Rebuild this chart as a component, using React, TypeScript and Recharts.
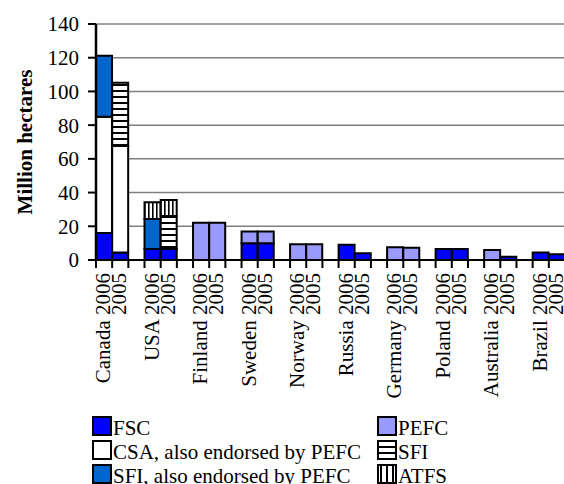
import { BarChart, Bar, XAxis, YAxis, CartesianGrid, Label } from 'recharts'

const countries = ['Canada', 'USA', 'Finland', 'Sweden', 'Norway', 'Russia', 'Germany', 'Poland', 'Australia', 'Brazil']
const years = ['2006', '2005']
const yTicks = [0, 20, 40, 60, 80, 100, 120, 140]

// values per country, in the order [2006, 2005]
const fsc = [16, 4.5, 6.5, 6.5, null, null, 10, 10, null, null, 9, 4, null, null, 6.5, 6.5, null, 2, 4.5, 3.4]
const pefc = [null, null, null, null, 22.1, 22.1, 6.9, 6.9, 9.3, 9.3, null, null, 7.5, 7.3, null, null, 5.9, null, null, null]
const csa = [69, 63.2, null, null, null, null, null, null, null, null, null, null, null, null, null, null, null, null, null, null]
const sfiPefc = [36.2, null, 17.8, null, null, null, null, null, null, null, null, null, null, null, null, null, null, null, null, null]
const sfi = [null, 37.5, null, 19.6, null, null, null, null, null, null, null, null, null, null, null, null, null, null, null, null]
const atfs = [null, null, 9.9, 9.5, null, null, null, null, null, null, null, null, null, null, null, null, null, null, null, null]

const series = [
  { key: 'fsc', name: 'FSC', fill: '#0000ff', values: fsc },
  { key: 'pefc', name: 'PEFC', fill: '#9999ff', values: pefc },
  { key: 'csa', name: 'CSA, also endorsed by PEFC', fill: '#ffffff', values: csa },
  { key: 'sfiPefc', name: 'SFI, also endorsed by PEFC', fill: '#0066cc', values: sfiPefc },
  { key: 'sfi', name: 'SFI', fill: 'url(#hstripe)', values: sfi },
  { key: 'atfs', name: 'ATFS', fill: 'url(#vstripe)', values: atfs },
]

// legend order (two columns, read row by row)
const legendOrder = ['fsc', 'pefc', 'csa', 'sfi', 'sfiPefc', 'atfs']

const FONT = '"Liberation Serif", "DejaVu Serif", serif'
const CHART_W = 565
const YAXIS_W = 96
const PLOT_W = CHART_W - YAXIS_W

type Row = { id: string; label: string; [k: string]: any }
const rows: Row[] = []
countries.forEach((c, ci) => {
  years.forEach((yr, yi) => {
    const r: Row = { id: `${c}-${yr}`, label: yi === 0 ? `${c} ${yr}` : yr }
    series.forEach(s => {
      r[s.key] = s.values[ci * 2 + yi]
    })
    rows.push(r)
  })
  if (ci < countries.length - 1) rows.push({ id: `gap-${ci}`, label: '' })
})

function CategoryTick(props: any) {
  const { x, y, index } = props
  const bw = PLOT_W / rows.length
  const row = rows[index]
  const left = x - bw / 2
  return (
    <g>
      <line x1={left} x2={left} y1={y} y2={y + 8} stroke="#000" strokeWidth={2} />
      {index === rows.length - 1 && (
        <line x1={x + bw / 2} x2={x + bw / 2} y1={y} y2={y + 8} stroke="#000" strokeWidth={2} />
      )}
      {row && row.label && (
        <text
          transform={`translate(${x + 6},${y + 13}) rotate(-90)`}
          textAnchor="end"
          fontSize={21}
          fontFamily={FONT}
          fill="#000"
        >
          {row.label}
        </text>
      )}
    </g>
  )
}

function Swatch({ fill, x, y }: { fill: string; x: number; y: number }) {
  return <rect x={x} y={y} width={18} height={18} fill={fill} stroke="#000" strokeWidth={2} />
}

function LegendBlock() {
  const cols = [92, 377]
  const rowsY = [417, 441, 465]
  return (
    <svg width={564} height={484} style={{ position: 'absolute', left: 0, top: 0 }}>
      <defs>
        <pattern id="lhstripe" width="6" height="6" patternUnits="userSpaceOnUse">
          <rect width="6" height="6" fill="#fff" />
          <rect y="2" width="6" height="2" fill="#000" />
        </pattern>
        <pattern id="lvstripe" width="6" height="6" patternUnits="userSpaceOnUse">
          <rect width="6" height="6" fill="#fff" />
          <rect x="2" width="2" height="6" fill="#000" />
        </pattern>
      </defs>
      {legendOrder.map((k, i) => {
        const s = series.find(v => v.key === k)!
        const x = cols[i % 2]
        const y = rowsY[Math.floor(i / 2)]
        const fill = s.fill === 'url(#hstripe)' ? 'url(#lhstripe)' : s.fill === 'url(#vstripe)' ? 'url(#lvstripe)' : s.fill
        return (
          <g key={k}>
            <Swatch fill={fill} x={x + 1} y={y} />
            <text x={x + 21} y={y + 18} fontSize={21} fontFamily={FONT} fill="#000">
              {s.name}
            </text>
          </g>
        )
      })}
    </svg>
  )
}

export default function App() {
  return (
    <div
      style={{
        position: 'absolute',
        left: 0,
        top: 0,
        width: 564,
        height: 484,
        overflow: 'hidden',
        background: '#fff',
      }}
    >
      <BarChart
        width={CHART_W}
        height={400}
        data={rows}
        margin={{ top: 24, right: 0, bottom: 10, left: 0 }}
        barCategoryGap={0}
        barGap={0}
      >
        <defs>
          <pattern id="hstripe" width="6" height="6" patternUnits="userSpaceOnUse">
            <rect width="6" height="6" fill="#fff" />
            <rect y="0" width="6" height="2" fill="#000" />
          </pattern>
          <pattern id="vstripe" width="4" height="4" patternUnits="userSpaceOnUse">
            <rect width="4" height="4" fill="#fff" />
            <rect x="0" width="1.6" height="4" fill="#000" />
          </pattern>
        </defs>
        <CartesianGrid vertical={false} stroke="#808080" strokeWidth={1.5} />
        <XAxis
          dataKey="id"
          interval={0}
          height={130}
          tickLine={false}
          tickSize={0}
          tickMargin={0}
          axisLine={{ stroke: '#000', strokeWidth: 2 }}
          tick={<CategoryTick />}
        />
        <YAxis
          width={YAXIS_W}
          domain={[0, 140]}
          ticks={yTicks}
          interval={0}
          tickSize={8}
          tickMargin={9}
          axisLine={{ stroke: '#000', strokeWidth: 2.5 }}
          tickLine={{ stroke: '#000', strokeWidth: 2 }}
          tick={{ fontSize: 21, fontFamily: FONT, fill: '#000' }}
        >
          <Label
            content={(p: any) => {
              const vb = p.viewBox || { y: 24, height: 236 }
              const cy = vb.y + vb.height / 2
              return (
                <text
                  x={32}
                  y={cy}
                  transform={`rotate(-90 32 ${cy})`}
                  textAnchor="middle"
                  fontSize={21}
                  fontWeight="bold"
                  fontFamily={FONT}
                  fill="#000"
                >
                  Million hectares
                </text>
              )
            }}
          />
        </YAxis>
        {series.map(s => (
          <Bar
            key={s.key}
            dataKey={s.key}
            name={s.name}
            stackId="a"
            fill={s.fill}
            stroke="#000"
            strokeWidth={2}
            isAnimationActive={false}
          />
        ))}
      </BarChart>
      <LegendBlock />
    </div>
  )
}
